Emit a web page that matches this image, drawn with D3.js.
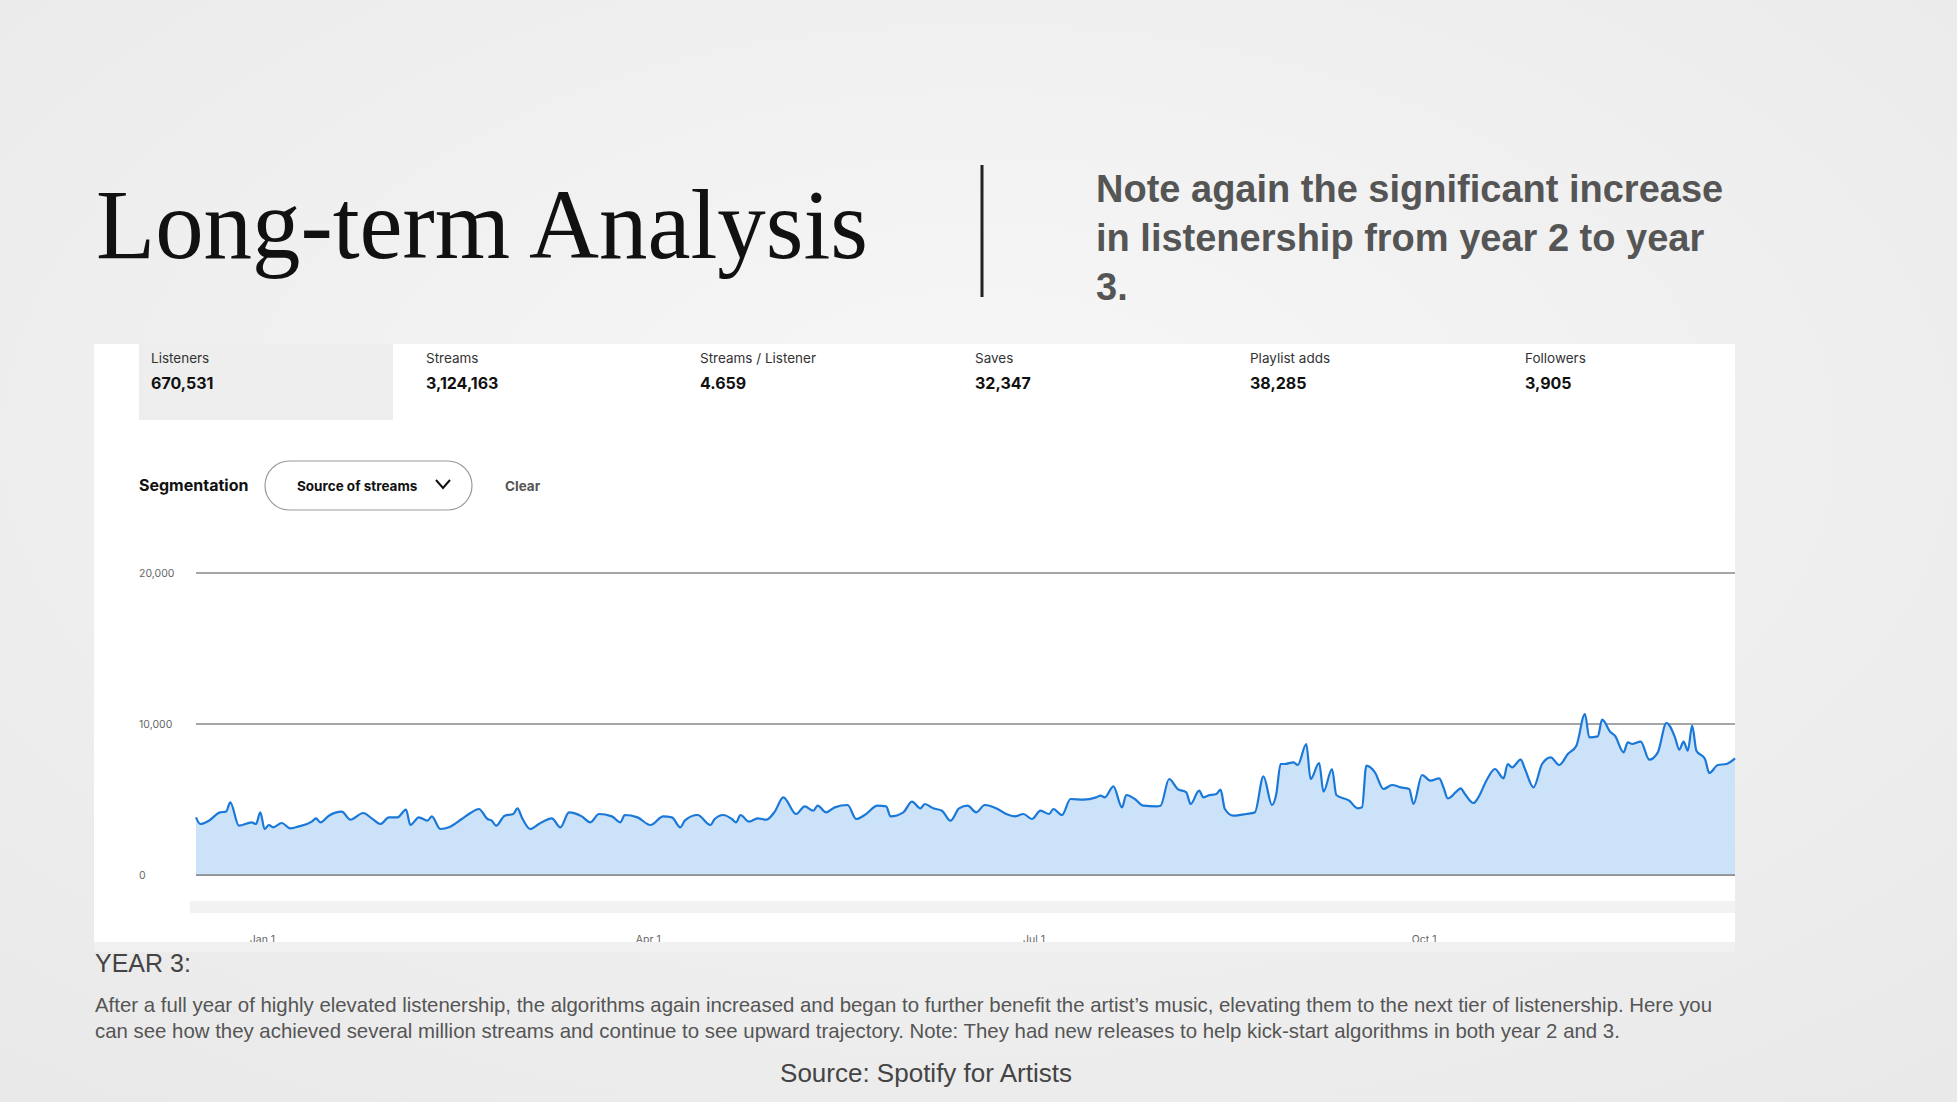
<!DOCTYPE html>
<html><head><meta charset="utf-8">
<script src="https://cdn.jsdelivr.net/npm/d3@7"></script>
<style>html,body{margin:0;padding:0;overflow:hidden;}</style>
</head><body>
<script>
const days = [0,1,3,5.6,7,8,10,13,14,15,16,17,18,20,22,24,27,28,29,31,34,36,39,41,43,45,47,49,50,52,54,55,57,59,62,64,66,68,69,70,72,74,75,76,78,80,83,85,87,90,92,94,97,99,100,103,106,109,111,113,114,117,120,121,123,125,126,127,129,131,133,135,137,140,142,144,145,147,149,152,154,156,159,161,162,165,167,169,170,172,174,176,178,
180,182,184,187,189,191,193,195,197,199,200,202,204,207,210,211,212,214,216,217,219,221,224,225,227,229,231,232,234,235,236,238,239,240,242,245,247,249,251,252,253,254,256,257,259,260,262,263,265,266,269,271,272,273,275,277,279,281,283,284,286,288,290,291,292,294,295,296,298,299,301,303,305,306,307,309,310,312,314,316,318,320,322,324,325,327,328,330,331,333,334,335,337,339,341,343,345,346,347,348,349,350,352,353,355,357,359];
const listeners = [3818,3377,3597,4149,4193,4812,3266,3487,3377,4149,3045,3310,3156,3443,3089,3222,3531,3752,3487,3928,4193,3664,4105,3752,3377,3818,3818,4326,3310,3818,3597,3884,3045,3156,3708,4105,4370,3708,3597,3266,3928,4039,4414,3818,3045,3377,3752,3156,4149,3884,3487,4039,3884,3487,3972,3818,3310,3884,3818,3156,3597,3972,3310,3708,3972,3708,3487,3972,3531,3752,3664,4193,5143,4039,4547,4260,4591,4149,4480,4635,3708,3972,4591,4547,3884,4149,4856,4414,4701,4414,4260,3597,4414,
4590,4149,4635,4370,4039,3884,4039,3707,4259,4039,4370,3972,5032,4988,5143,5253,5143,5871,4480,5297,5032,4590,4546,4590,6357,5694,5474,4701,5584,5143,5253,5363,5650,4370,3928,4039,4149,6533,4635,5363,7350,7350,7461,7284,8675,6357,7417,5518,7020,5297,4922,4414,4480,7240,6798,5694,5959,5805,5694,4701,6622,6246,6401,5805,5076,5518,5739,5363,4767,5076,6246,7020,6401,7350,7130,7638,7020,5805,7350,7792,7284,8013,8565,10662,9117,9183,10287,9448,9227,8123,8786,8675,8830,7638,8123,10066,9117,8300,8830,8234,9890,8234,7682,6754,7284,7350,7726];
const yTicks = [0,10000,20000];
const xTickDays = [15.5,105.5,195.5,286.5];
const xTickLabels = ["Jan 1","Apr 1","Jul 1","Oct 1"];
const tabLabels = ["Listeners","Streams","Streams / Listener","Saves","Playlist adds","Followers"];
const tabValues = ["670,531","3,124,163","4.659","32,347","38,285","3,905"];
const noteLines = ["Note again the significant increase","in listenership from year 2 to year","3."];
const paraLines = ["After a full year of highly elevated listenership, the algorithms again increased and began to further benefit the artist’s music, elevating them to the next tier of listenership. Here you","can see how they achieved several million streams and continue to see upward trajectory. Note: They had new releases to help kick-start algorithms in both year 2 and 3."];

const W=1957,H=1102;
const svg=d3.select("body").append("svg").attr("width",W).attr("height",H);
const defs=svg.append("defs");
const rg=defs.append("radialGradient").attr("id","bg").attr("cx","50%").attr("cy","40%").attr("r","75%");
rg.append("stop").attr("offset","0%").attr("stop-color","#f7f7f7");
rg.append("stop").attr("offset","100%").attr("stop-color","#e9e9e9");
svg.append("rect").attr("width",W).attr("height",H).attr("fill","url(#bg)");

svg.append("text").attr("x",96).attr("y",258).attr("font-family","Liberation Serif, serif")
  .attr("font-size",100).attr("fill","#111").attr("textLength",772).attr("lengthAdjust","spacingAndGlyphs").text("Long-term Analysis");
svg.append("line").attr("x1",982).attr("x2",982).attr("y1",165).attr("y2",297).attr("stroke","#222").attr("stroke-width",3);
svg.selectAll(".note").data(noteLines).join("text").attr("x",1096).attr("y",(d,i)=>202+i*49)
  .attr("font-family","Liberation Sans, Arial, sans-serif").attr("font-weight","bold").attr("font-size",38).attr("fill","#555").text(d=>d);

// panel
svg.append("rect").attr("x",94).attr("y",344).attr("width",1641).attr("height",598).attr("fill","#fff");
svg.append("rect").attr("x",139).attr("y",344).attr("width",254).attr("height",76).attr("fill","#eeeeee");
const tabX=[151,426,700,975,1250,1525];
const tg=svg.selectAll(".tab").data(tabLabels).join("g");
tg.append("text").attr("x",(d,i)=>tabX[i]).attr("y",363).attr("font-family","Inter, Roboto, sans-serif").attr("font-size",13.5).attr("fill","#333").text(d=>d);
tg.append("text").attr("x",(d,i)=>tabX[i]).attr("y",389).attr("font-family","Inter, Roboto, sans-serif").attr("font-weight","bold").attr("font-size",16).attr("fill","#111").text((d,i)=>tabValues[i]);

svg.append("text").attr("x",139).attr("y",491).attr("font-family","Inter, Roboto, sans-serif").attr("font-weight","bold").attr("font-size",16).attr("fill","#111").text("Segmentation");
svg.append("rect").attr("x",265).attr("y",461).attr("width",207).attr("height",49).attr("rx",24.5).attr("fill","#fff").attr("stroke","#999").attr("stroke-width",1.2);
svg.append("text").attr("x",297).attr("y",491).attr("font-family","Inter, Roboto, sans-serif").attr("font-weight","bold").attr("font-size",13.5).attr("fill","#111").text("Source of streams");
svg.append("path").attr("d","M436,480 L443,488 L450,480").attr("fill","none").attr("stroke","#111").attr("stroke-width",2);
svg.append("text").attr("x",505).attr("y",491).attr("font-family","Inter, Roboto, sans-serif").attr("font-weight","bold").attr("font-size",13.5).attr("fill","#555").text("Clear");

// chart
const x=d3.scaleLinear().domain([0,359]).range([196,1735]);
const y=d3.scaleLinear().domain([0,20000]).range([875,573]);
svg.append("g").selectAll("line").data(yTicks).join("line").attr("x1",196).attr("x2",1735)
  .attr("y1",d=>y(d)).attr("y2",d=>y(d)).attr("stroke","#888").attr("stroke-width",1.5);
svg.append("g").selectAll("text").data(yTicks).join("text").attr("x",139).attr("y",d=>y(d)+4)
  .attr("font-family","Inter, Roboto, sans-serif").attr("font-size",10.5).attr("fill","#666").text(d=>d3.format(",")(d));
const pts=days.map((d,i)=>[d,listeners[i]]);
svg.append("path").datum(pts).attr("fill","#cce2f8").attr("d",d3.area().x(d=>x(d[0])).y0(y(0)).y1(d=>y(d[1])).curve(d3.curveMonotoneX));
svg.append("path").datum(pts).attr("fill","none").attr("stroke","#1a78d8").attr("stroke-width",2.2).attr("d",d3.line().x(d=>x(d[0])).y(d=>y(d[1])).curve(d3.curveMonotoneX));
svg.append("line").attr("x1",196).attr("x2",1735).attr("y1",y(0)).attr("y2",y(0)).attr("stroke","#888").attr("stroke-width",1.5);
svg.append("rect").attr("x",190).attr("y",901).attr("width",1545).attr("height",12).attr("fill","#f2f2f2");
svg.append("g").selectAll("text").data(xTickDays).join("text").attr("x",d=>x(d)).attr("y",943).attr("text-anchor","middle")
  .attr("font-family","Inter, Roboto, sans-serif").attr("font-size",10.5).attr("fill","#666").text((d,i)=>xTickLabels[i]);
svg.append("rect").attr("x",94).attr("y",942).attr("width",1641).attr("height",10).attr("fill","#f0f0f0");

svg.append("text").attr("x",95).attr("y",972).attr("font-family","Liberation Sans, Arial, sans-serif").attr("font-size",25).attr("fill","#444").text("YEAR 3:");
svg.selectAll(".para").data(paraLines).join("text").attr("x",95).attr("y",(d,i)=>1012+i*26)
  .attr("font-family","Liberation Sans, Arial, sans-serif").attr("font-size",20.4).attr("fill","#555").text(d=>d);
svg.append("text").attr("x",926).attr("y",1082).attr("text-anchor","middle").attr("font-family","Liberation Sans, Arial, sans-serif").attr("font-size",26).attr("fill","#444").text("Source: Spotify for Artists");
</script>
</body></html>
